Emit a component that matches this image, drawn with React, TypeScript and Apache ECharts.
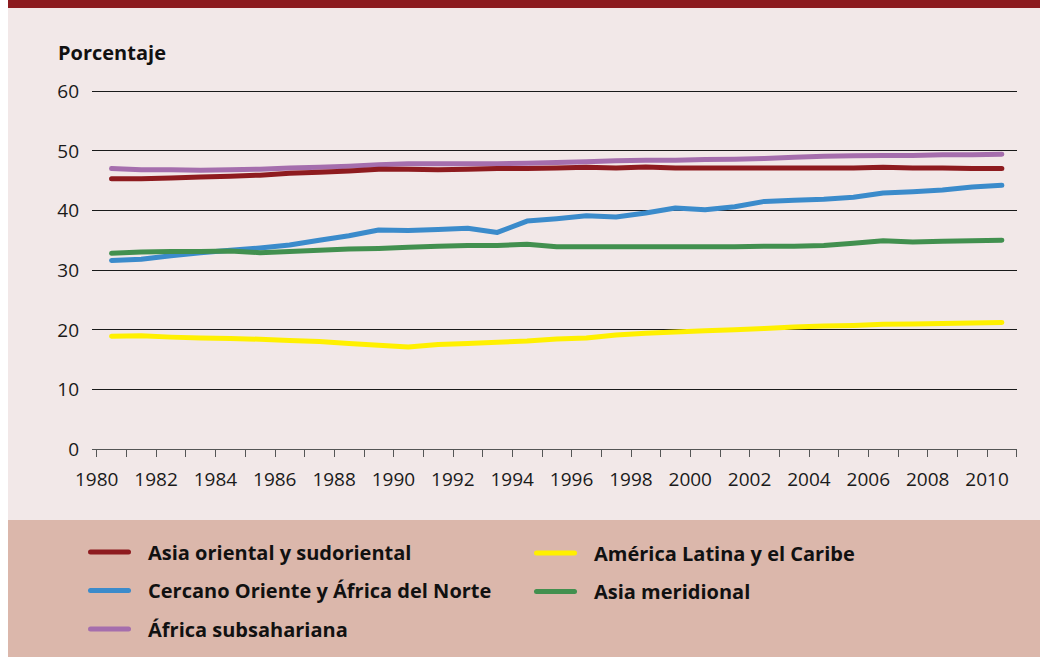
import React, { useEffect, useRef } from "react";
import * as echarts from "echarts";

const years = [
  "1980", "1981", "1982", "1983", "1984", "1985", "1986", "1987", "1988", "1989",
  "1990", "1991", "1992", "1993", "1994", "1995", "1996", "1997", "1998", "1999",
  "2000", "2001", "2002", "2003", "2004", "2005", "2006", "2007", "2008", "2009", "2010",
];

const asiaOriental = [
  45.3, 45.3, 45.4, 45.6, 45.7, 45.9, 46.2, 46.4, 46.6, 46.9,
  46.9, 46.8, 46.9, 47.0, 47.0, 47.1, 47.2, 47.1, 47.25, 47.1,
  47.1, 47.1, 47.1, 47.1, 47.1, 47.1, 47.2, 47.1, 47.1, 47.0, 47.0,
];
const africaSub = [
  47.0, 46.8, 46.8, 46.7, 46.8, 46.9, 47.1, 47.2, 47.4, 47.65,
  47.8, 47.8, 47.8, 47.8, 47.9, 48.0, 48.15, 48.3, 48.4, 48.4,
  48.5, 48.55, 48.7, 48.9, 49.05, 49.15, 49.2, 49.2, 49.3, 49.3, 49.4,
];
const cercanoOriente = [
  31.6, 31.8, 32.4, 32.9, 33.3, 33.7, 34.2, 35.0, 35.75, 36.7,
  36.6, 36.8, 37.0, 36.3, 38.2, 38.6, 39.1, 38.9, 39.55, 40.4,
  40.1, 40.6, 41.5, 41.7, 41.85, 42.2, 42.9, 43.1, 43.4, 43.9, 44.2,
];
const asiaMeridional = [
  32.8, 33.0, 33.1, 33.1, 33.2, 32.9, 33.1, 33.3, 33.5, 33.6,
  33.8, 34.0, 34.1, 34.1, 34.3, 33.9, 33.9, 33.9, 33.9, 33.9,
  33.9, 33.9, 34.0, 34.0, 34.1, 34.5, 34.9, 34.7, 34.8, 34.9, 35.0,
];
const americaLatina = [
  18.9, 19.0, 18.75, 18.6, 18.5, 18.4, 18.2, 18.0, 17.7, 17.4,
  17.1, 17.5, 17.7, 17.9, 18.1, 18.45, 18.6, 19.1, 19.4, 19.6,
  19.8, 20.0, 20.2, 20.45, 20.6, 20.7, 20.9, 20.95, 21.05, 21.1, 21.2,
];

const seriesNames = {
  asiaOriental: "Asia oriental y sudoriental",
  cercano: "Cercano Oriente y África del Norte",
  africa: "África subsahariana",
  america: "América Latina y el Caribe",
  meridional: "Asia meridional",
};

const FONT = "'Open Sans', 'Noto Sans', sans-serif";
const TEXT = "#1a1a1a";

export default function App() {
  const ref = useRef<HTMLDivElement>(null);

  useEffect(() => {
    if (!ref.current) return;
    const chart = echarts.init(ref.current, undefined, { renderer: "svg" });

    const line = (name: string, data: number[], color: string, z: number) => ({
      type: "line",
      name,
      data,
      xAxisIndex: 2,
      yAxisIndex: 1,
      symbol: "none",
      color,
      z,
      lineStyle: { width: 5, color, cap: "round", join: "round" },
    });

    const legendIcon =
      "path://M2.5,0 L40.5,0 A2.5,2.5 0 0 1 40.5,5 L2.5,5 A2.5,2.5 0 0 1 2.5,0 Z";
    const legendCommon = {
      orient: "vertical",
      icon: legendIcon,
      itemWidth: 43,
      itemHeight: 5,
      itemGap: 18.5,
      padding: 0,
      selectedMode: false,
      itemStyle: { borderWidth: 0 },
      textStyle: {
        fontFamily: FONT,
        fontWeight: "bold",
        fontSize: 20,
        lineHeight: 20,
        color: "#111",
        padding: [0, 0, 0, 12],
      },
    };

    chart.setOption({
      animation: false,
      backgroundColor: "#ffffff",
      title: {
        text: "Porcentaje",
        left: 58,
        top: 41,
        padding: 0,
        textStyle: {
          fontFamily: FONT,
          fontWeight: "bold",
          fontSize: 20,
          lineHeight: 22,
          color: "#111",
        },
      },
      graphic: [
        { type: "rect", z: -100, silent: true, shape: { x: 8, y: 0, width: 1032, height: 8 }, style: { fill: "#8c1b1f" } },
        { type: "rect", z: -100, silent: true, shape: { x: 8, y: 8, width: 1032, height: 512 }, style: { fill: "#f2e8e8" } },
        { type: "rect", z: -100, silent: true, shape: { x: 8, y: 520, width: 1032, height: 137 }, style: { fill: "#dbb7ab" } },
      ],
      legend: [
        {
          ...legendCommon,
          left: 88,
          top: 542,
          data: [seriesNames.asiaOriental, seriesNames.cercano, seriesNames.africa],
        },
        {
          ...legendCommon,
          left: 534,
          top: 543,
          data: [seriesNames.america, seriesNames.meridional],
        },
      ],
      grid: [
        { left: 92, right: 31, top: 91, bottom: 208 },
        { left: 96.7, right: 31.3, top: 91, bottom: 208 },
      ],
      xAxis: [
        { type: "value", gridIndex: 0, show: false, min: 0, max: 1 },
        {
          type: "value",
          gridIndex: 1,
          min: 1980,
          max: 2011,
          interval: 1,
          axisLine: { show: false },
          axisTick: { show: true, length: 8, lineStyle: { color: "#555", width: 1 } },
          splitLine: { show: false },
          axisLabel: {
            fontFamily: FONT,
            fontSize: 19,
            color: TEXT,
            margin: 20,
            formatter: (v: number) => (v % 2 === 0 ? String(v) : ""),
          },
        },
        { type: "category", gridIndex: 1, data: years, show: false, boundaryGap: true },
      ],
      yAxis: [
        {
          type: "value",
          gridIndex: 0,
          min: 0,
          max: 60,
          interval: 10,
          axisLine: { show: false },
          axisTick: { show: false },
          axisLabel: { fontFamily: FONT, fontSize: 19, color: TEXT, margin: 13 },
          splitLine: {
            show: true,
            lineStyle: {
              width: 1,
              color: ["#555", "#1a1a1a", "#1a1a1a", "#1a1a1a", "#1a1a1a", "#1a1a1a", "#1a1a1a"],
            },
          },
        },
        { type: "value", gridIndex: 1, min: 0, max: 60, interval: 10, show: false },
      ],
      series: [
        line(seriesNames.africa, africaSub, "#a56ead", 3),
        line(seriesNames.asiaOriental, asiaOriental, "#8e1b1f", 4),
        line(seriesNames.cercano, cercanoOriente, "#3b8bcb", 5),
        line(seriesNames.meridional, asiaMeridional, "#42904f", 6),
        line(seriesNames.america, americaLatina, "#fff000", 7),
      ],
    });

    return () => chart.dispose();
  }, []);

  return (
    <div
      ref={ref}
      style={{ position: "absolute", left: 0, top: 0, width: 1048, height: 657 }}
    />
  );
}
